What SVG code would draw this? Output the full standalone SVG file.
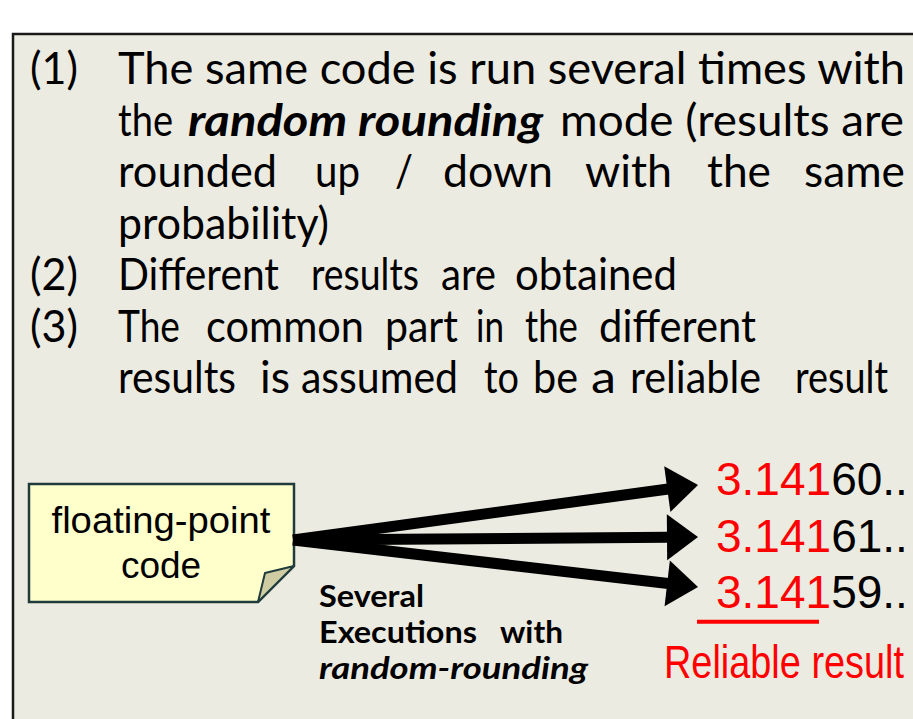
<svg xmlns="http://www.w3.org/2000/svg" width="913" height="719" viewBox="0 0 913 719">
  <style>
    .body { font-family: Lato, "Open Sans", sans-serif; font-size: 44px; fill: #000; }
    .bi { font-weight: bold; font-style: italic; }
    .lbl { font-family: Lato, "Open Sans", sans-serif; font-size: 30px; font-weight: bold; fill: #000; }
    .note-text { font-family: "Liberation Sans", Arial, sans-serif; font-size: 37px; fill: #000; text-anchor: middle; }
    .num { font-family: "Liberation Sans", Arial, sans-serif; font-size: 46px; fill: #000; }
    .red { fill: #ff0000; }
    .shaft { stroke: #000; stroke-width: 11; fill: none; marker-end: url(#head); }
  </style>
  <defs>
    <marker id="head" markerUnits="userSpaceOnUse" markerWidth="32" markerHeight="46" refX="1" refY="23" orient="auto" overflow="visible">
      <path d="M0,0 L31,23 L0,46 Z" fill="#000"/>
    </marker>
  </defs>

  <!-- page -->
  <rect x="0" y="0" width="913" height="719" fill="#ffffff"/>
  <!-- slide panel, runs off the right and bottom edges -->
  <rect x="13" y="34" width="920" height="700" fill="#ecebe1" stroke="#1a1a1a" stroke-width="2.5"/>

  <!-- explanatory list, words placed to keep the justified spacing -->
  <g id="description">
    <text class="body" x="30" y="84" textLength="48" lengthAdjust="spacingAndGlyphs">(1)</text>
    <text class="body" x="118" y="84" textLength="787" lengthAdjust="spacingAndGlyphs">The same code is run several times with</text>

    <text class="body" x="118" y="135.5" textLength="55" lengthAdjust="spacingAndGlyphs">the</text>
    <text class="body bi" x="188" y="135.5" textLength="355" lengthAdjust="spacingAndGlyphs">random rounding</text>
    <text class="body" x="560" y="135.5" textLength="344" lengthAdjust="spacingAndGlyphs">mode (results are</text>

    <text class="body" x="118" y="187" textLength="159" lengthAdjust="spacingAndGlyphs">rounded</text>
    <text class="body" x="315" y="187" textLength="45" lengthAdjust="spacingAndGlyphs">up</text>
    <text class="body" x="395" y="187" textLength="18" lengthAdjust="spacingAndGlyphs">/</text>
    <text class="body" x="443" y="187" textLength="110" lengthAdjust="spacingAndGlyphs">down</text>
    <text class="body" x="585" y="187" textLength="87" lengthAdjust="spacingAndGlyphs">with</text>
    <text class="body" x="707" y="187" textLength="64" lengthAdjust="spacingAndGlyphs">the</text>
    <text class="body" x="804" y="187" textLength="101" lengthAdjust="spacingAndGlyphs">same</text>

    <text class="body" x="118" y="238.5" textLength="211" lengthAdjust="spacingAndGlyphs">probability)</text>

    <text class="body" x="30" y="290" textLength="48" lengthAdjust="spacingAndGlyphs">(2)</text>
    <text class="body" x="118" y="290" textLength="161" lengthAdjust="spacingAndGlyphs">Different</text>
    <text class="body" x="311" y="290" textLength="108" lengthAdjust="spacingAndGlyphs">results</text>
    <text class="body" x="441" y="290" textLength="55" lengthAdjust="spacingAndGlyphs">are</text>
    <text class="body" x="515" y="290" textLength="162" lengthAdjust="spacingAndGlyphs">obtained</text>

    <text class="body" x="30" y="341.5" textLength="48" lengthAdjust="spacingAndGlyphs">(3)</text>
    <text class="body" x="118" y="341.5" textLength="62" lengthAdjust="spacingAndGlyphs">The</text>
    <text class="body" x="206" y="341.5" textLength="158" lengthAdjust="spacingAndGlyphs">common</text>
    <text class="body" x="385" y="341.5" textLength="73" lengthAdjust="spacingAndGlyphs">part</text>
    <text class="body" x="476" y="341.5" textLength="28" lengthAdjust="spacingAndGlyphs">in</text>
    <text class="body" x="525" y="341.5" textLength="53" lengthAdjust="spacingAndGlyphs">the</text>
    <text class="body" x="599" y="341.5" textLength="157" lengthAdjust="spacingAndGlyphs">different</text>

    <text class="body" x="118" y="393" textLength="118" lengthAdjust="spacingAndGlyphs">results</text>
    <text class="body" x="260" y="393" textLength="30" lengthAdjust="spacingAndGlyphs">is</text>
    <text class="body" x="301" y="393" textLength="157" lengthAdjust="spacingAndGlyphs">assumed</text>
    <text class="body" x="484" y="393" textLength="35" lengthAdjust="spacingAndGlyphs">to</text>
    <text class="body" x="533" y="393" textLength="45" lengthAdjust="spacingAndGlyphs">be</text>
    <text class="body" x="591" y="393" textLength="25" lengthAdjust="spacingAndGlyphs">a</text>
    <text class="body" x="630" y="393" textLength="131" lengthAdjust="spacingAndGlyphs">reliable</text>
    <text class="body" x="795" y="393" textLength="93" lengthAdjust="spacingAndGlyphs">result</text>
  </g>

  <!-- source note with folded corner -->
  <g id="code-note">
    <path d="M29,484 H294 V566 L258,602 H29 Z" fill="#ffffcc" stroke="#1f3b3b" stroke-width="2.5" stroke-linejoin="miter"/>
    <path d="M294,566 L265,573 L258,602 Z" fill="#cfcca3" stroke="#1f3b3b" stroke-width="2" stroke-linejoin="round"/>
    <text class="note-text" x="161" y="533" textLength="219" lengthAdjust="spacingAndGlyphs">floating-point</text>
    <text class="note-text" x="161" y="578">code</text>
  </g>

  <!-- fan of executions -->
  <g id="connectors">
    <line class="shaft" x1="293" y1="540" x2="668.3" y2="489"/>
    <line class="shaft" x1="293" y1="540" x2="668" y2="537.2"/>
    <line class="shaft" x1="293" y1="540" x2="668.2" y2="583.5"/>
  </g>

  <g id="executions-label">
    <text class="lbl" x="319" y="607" textLength="105" lengthAdjust="spacingAndGlyphs">Several</text>
    <text class="lbl" x="319" y="643" textLength="158" lengthAdjust="spacingAndGlyphs">Executions</text>
    <text class="lbl" x="500" y="643" textLength="63" lengthAdjust="spacingAndGlyphs">with</text>
    <text class="lbl" x="319" y="679" font-style="italic" textLength="269" lengthAdjust="spacingAndGlyphs">random-rounding</text>
  </g>

  <!-- results of the runs -->
  <g id="result-1">
    <text class="num" x="716" y="495"><tspan class="red">3.141</tspan>60..</text>
  </g>
  <g id="result-2">
    <text class="num" x="716" y="552"><tspan class="red">3.141</tspan>61..</text>
  </g>
  <g id="result-3">
    <text class="num" x="716" y="608"><tspan class="red">3.141</tspan>59..</text>
  </g>

  <g id="reliable-result">
    <line x1="697" y1="621.7" x2="819" y2="621.7" stroke="#ff0000" stroke-width="4"/>
    <text class="num red" x="664" y="678" font-size="37" textLength="240" lengthAdjust="spacingAndGlyphs">Reliable result</text>
  </g>
</svg>
